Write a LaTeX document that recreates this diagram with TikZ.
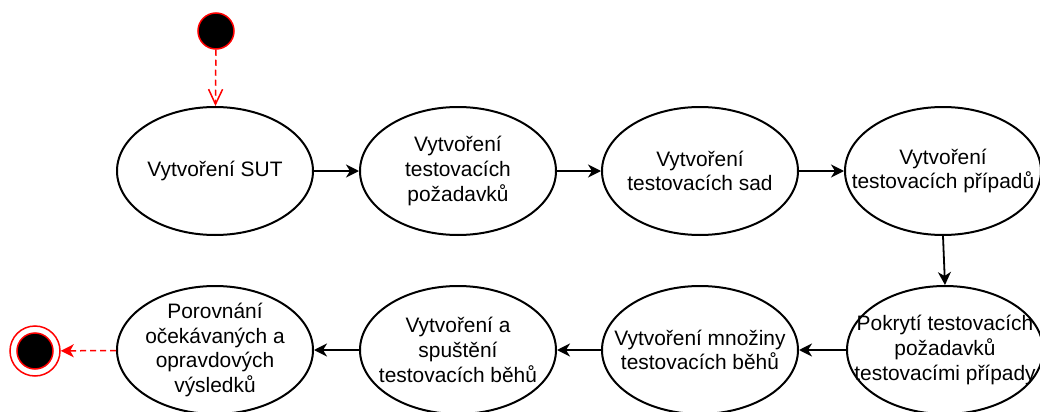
\documentclass[tikz,border=0pt]{standalone}
\usepackage{fontspec}
\setmainfont{Liberation Sans}
\usetikzlibrary{arrows.meta,shapes.geometric}
\begin{document}
\begin{tikzpicture}[x=0.5pt,y=-0.5pt,
  state/.style={ellipse, draw=black, fill=white, line width=1pt,
    minimum width=98pt, minimum height=64pt, inner sep=0pt},
  txt/.style={inner sep=0pt, align=center,
    font=\fontsize{10.45}{12.4}\selectfont},
  flow/.style={-{Stealth[length=6.5pt,width=6.5pt,inset=2pt]}, line width=0.9pt},
  redflow/.style={red, dash pattern=on 3pt off 2pt, line width=0.75pt},
  startdot/.style={circle, fill=black, draw=red, line width=0.75pt,
    minimum size=18pt, inner sep=0pt},
  enddot/.style={circle, fill=white, draw=red, line width=0.75pt,
    minimum size=25pt, inner sep=0pt}]
\useasboundingbox (0,0) rectangle (1040,412);

% initial and final pseudostates
\node[startdot] (start) at (216,31) {};
\node[enddot] (final) at (35,351) {};
\node[startdot] (finalin) at (35,351) {};

% top row
\node[state] (a1) at (215,171) {};
\node[state] (a2) at (458,171) {};
\node[state] (a3) at (700,171) {};
\node[state] (a4) at (943,171) {};

% bottom row
\node[state] (b4) at (945,350) {};
\node[state] (b3) at (700,350) {};
\node[state] (b2) at (458,350) {};
\node[state] (b1) at (215,350) {};

% labels
\node[txt] (ta1) at (a1) {Vytvoření SUT};
\node[txt] (ta2) at (a2) {Vytvoření\\testovacích\\požadavků};
\node[txt] (ta3) at (a3) {Vytvoření\\testovacích sad};
\node[txt] (ta4) at (a4) {Vytvoření\\testovacích případů};
\node[txt] (tb4) at (b4) {Pokrytí testovacích\\požadavků\\testovacími případy};
\node[txt] (tb3) at (b3) {Vytvoření množiny\\testovacích běhů};
\node[txt] (tb2) at (b2) {Vytvoření a\\spuštění\\testovacích běhů};
\node[txt] (tb1) at (b1) {Porovnání\\očekávaných a\\opravdových\\výsledků};

% transitions
\draw[redflow, -{Straight Barb[length=7.5pt,width=7pt]}] (start) -- (a1);
\draw[flow] (a1) -- (a2);
\draw[flow] (a2) -- (a3);
\draw[flow] (a3) -- (a4);
\draw[flow] (a4.south) -- (b4.north);
\draw[flow] (b4) -- (b3);
\draw[flow] (b3) -- (b2);
\draw[flow] (b2) -- (b1);
\draw[redflow, -{Stealth[length=6.5pt,width=6.5pt,inset=1.8pt]}] (b1) -- (final);
\end{tikzpicture}
\end{document}
